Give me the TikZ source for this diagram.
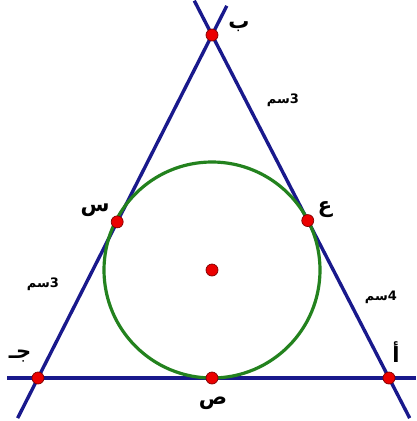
\documentclass[tikz,border=0pt]{standalone}
\usepackage{fontspec}
\usepackage{tikz}
\usetikzlibrary{calc}
\TeXXeTstate=1
\newfontfamily\arabicfont[Script=Arabic,BoldFont={DejaVu Sans Bold}]{DejaVu Sans}
\definecolor{lineblue}{RGB}{25,25,140}
\definecolor{circgreen}{RGB}{35,130,30}
\definecolor{dotred}{RGB}{235,0,0}

\begin{document}
\begin{tikzpicture}[x=1pt,y=-1pt,
    side/.style={draw=lineblue,line width=3.4pt},
    dot/.style={circle,fill=dotred,draw=red!50!black,line width=0.7pt,inner sep=0pt,minimum size=12pt},
    lbl/.style={font=\arabicfont\bfseries\fontsize{21}{21}\selectfont,inner sep=0pt},
    len/.style={font=\arabicfont\bfseries\fontsize{13}{13}\selectfont,inner sep=0pt}]
    \useasboundingbox (0,0) rectangle (416,421);
    % vertices and incentre
    \coordinate (b) at (212,35);
    \coordinate (j) at (38,378);
    \coordinate (a) at (389,378);
    \coordinate (o) at (212,270);
    % tangent points
    \coordinate (s) at ($(b)!(o)!(j)$);
    \coordinate (e) at ($(b)!(o)!(a)$);
    \coordinate (p) at ($(j)!(o)!(a)$);
    \draw[side] ($(b)!-0.085!(j)$) -- ($(j)!-0.117!(b)$);
    \draw[side] ($(b)!-0.1!(a)$) -- ($(a)!-0.117!(b)$);
    \draw[side] ($(j)!-0.088!(a)$) -- ($(a)!-0.077!(j)$);
    \draw[circgreen,line width=3.2pt] (o) circle (108);
    \foreach \pt in {b,j,a,o,s,e,p} { \node[dot] (d\pt) at (\pt) {}; }
    % letters
    \node[lbl] (lb) at (239,27) {\beginR ب\endR};
    \node[lbl] (lj) at (20,356) {\beginR جـ\endR};
    \node[lbl] (la) at (396,352) {\beginR أ\endR};
    \node[lbl] (ls) at (95,210) {\beginR س\endR};
    \node[lbl] (le) at (325,210) {\beginR ع\endR};
    \node[lbl] (lp) at (213,403) {\beginR ص\endR};
    % side lengths
    \node[len] (lba) at (283,100) {\beginR 3سم\endR};
    \node[len] (lbj) at (43,284) {\beginR 3سم\endR};
    \node[len] (laa) at (381,297) {\beginR 4سم\endR};
\end{tikzpicture}
\end{document}
